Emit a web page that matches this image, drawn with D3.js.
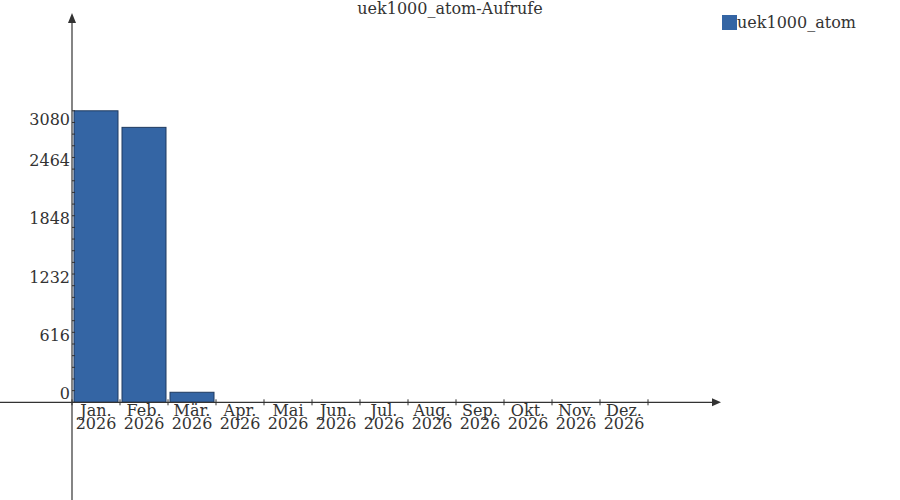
<!DOCTYPE html>
<html>
<head>
<meta charset="utf-8">
<script src="https://cdn.jsdelivr.net/npm/d3@7"></script>
<style>
  body { margin: 0; background: #fff; }
  text { font-family: "DejaVu Serif", serif; fill: #333; }
</style>
</head>
<body>
<div id="chart"></div>
<script>
const months = ["Jan.", "Feb.", "Mär.", "Apr.", "Mai", "Jun.", "Jul.", "Aug.", "Sep.", "Okt.", "Nov.", "Dez."];
const year = "2026";
const views = [3080, 2905, 106, 0, 0, 0, 0, 0, 0, 0, 0, 0];
const yTicks = [0, 616, 1232, 1848, 2464, 3080];
const seriesName = "uek1000_atom";
const title = "uek1000_atom-Aufrufe";

let svg = d3.select("#chart").append("svg")
  .attr("width", 900)
  .attr("height", 500);

let x = d3.scaleBand().domain(months).range([72, 648]).padding(0);
let y = d3.scaleLinear().domain([0, 3080]).range([402.3, 110.8]);

// title
svg.append("text")
  .attr("x", 450).attr("y", 14)
  .attr("text-anchor", "middle")
  .style("font-size", "16px")
  .text(title);

// bars
svg.append("g").selectAll("rect")
  .data(views)
  .enter()
  .append("rect")
  .attr("x", (d, i) => x(months[i]) + 2)
  .attr("width", x.bandwidth() - 4)
  .attr("y", d => y(d))
  .attr("height", d => y(0) - y(d))
  .attr("fill", "#3465a4")
  .attr("stroke", "#1f3a60")
  .attr("stroke-width", 1);

// axes lines
let axisColor = "#333";
svg.append("line")
  .attr("x1", 0).attr("x2", 714)
  .attr("y1", y(0)).attr("y2", y(0))
  .attr("stroke", axisColor).attr("stroke-width", 1.2);
svg.append("path")
  .attr("d", `M712,${y(0) - 4} L721,${y(0)} L712,${y(0) + 4} Z`)
  .attr("fill", axisColor);

svg.append("line")
  .attr("x1", 72).attr("x2", 72)
  .attr("y1", 500).attr("y2", 20)
  .attr("stroke", axisColor).attr("stroke-width", 1.2);
svg.append("path")
  .attr("d", "M68,23 L72,13 L76,23 Z")
  .attr("fill", axisColor);

// y ticks (minor every 1/5 of step)
let minor = d3.range(0, 3080 + 1, 616 / 5);
svg.append("g").selectAll("line")
  .data(minor)
  .enter()
  .append("line")
  .attr("x1", 72).attr("x2", 75)
  .attr("y1", d => y(d)).attr("y2", d => y(d))
  .attr("stroke", axisColor).attr("stroke-width", 1);

svg.append("g").selectAll("text")
  .data(yTicks)
  .enter()
  .append("text")
  .attr("x", 70)
  .attr("y", (d, i) => i == yTicks.length - 1 ? y(d) + 14 : y(d) - 3)
  .attr("text-anchor", "end")
  .style("font-size", "16px")
  .text(d => d);

// x ticks
svg.append("g").selectAll("line")
  .data(months.concat(["end"]))
  .enter()
  .append("line")
  .attr("x1", (d, i) => i < months.length ? x(d) : x(months[months.length - 1]) + x.bandwidth())
  .attr("x2", (d, i) => i < months.length ? x(d) : x(months[months.length - 1]) + x.bandwidth())
  .attr("y1", y(0) - 3).attr("y2", y(0) + 3)
  .attr("stroke", axisColor).attr("stroke-width", 1);

let xLabels = svg.append("g").selectAll("text")
  .data(months)
  .enter()
  .append("text")
  .attr("x", d => x(d) + x.bandwidth() / 2)
  .attr("y", y(0) + 14)
  .attr("text-anchor", "middle")
  .style("font-size", "16px");
xLabels.append("tspan").text(d => d);
xLabels.append("tspan")
  .attr("x", d => x(d) + x.bandwidth() / 2)
  .attr("dy", 13)
  .text(year);

// legend
svg.append("rect")
  .attr("x", 722).attr("y", 15)
  .attr("width", 15).attr("height", 15)
  .attr("fill", "#3465a4");
svg.append("text")
  .attr("x", 737).attr("y", 28)
  .style("font-size", "16px")
  .text(seriesName);
</script>
</body>
</html>
